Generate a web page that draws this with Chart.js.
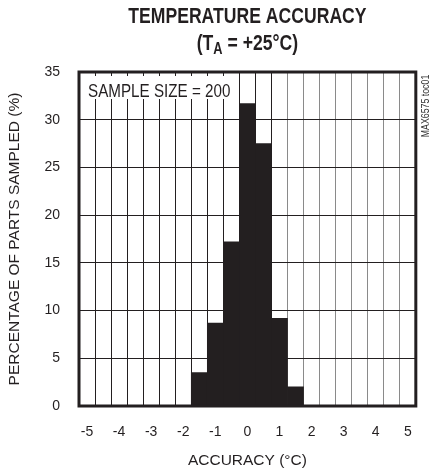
<!DOCTYPE html>
<html><head><meta charset="utf-8">
<script src="https://cdn.jsdelivr.net/npm/chart.js@4/dist/chart.umd.min.js"></script>
<style>html,body{margin:0;padding:0;background:#fff;}#wrap{width:430px;height:475px;position:relative;}</style>
</head><body><div id="wrap"><canvas id="c"></canvas></div>
<script>
const categories = ['-5','-4.5','-4','-3.5','-3','-2.5','-2','-1.5','-1','-0.5','0','0.5','1','1.5','2','2.5','3','3.5','4','4.5','5'];
const percentParts = [0,0,0,0,0,0,0,3.5,8.7,17.2,31.7,27.5,9.2,2,0,0,0,0,0,0,0];
const yMin = 0, yMax = 35, yStep = 5;
const titleLine1 = 'TEMPERATURE ACCURACY';
const titleLine2 = ['(T', 'A', ' = +25°C)'];
const sampleNote = 'SAMPLE SIZE = 200';
const sideNote = 'MAX6575 toc01';
const xTitle = 'ACCURACY (°C)';
const yTitle = 'PERCENTAGE OF PARTS SAMPLED (%)';

const FONT = '"Liberation Sans", Arial, sans-serif';
const INK = '#231f20';
const SX = 0.8; // horizontal condensing for plugin-drawn text

function measure(ctx, text, font) { ctx.font = font; return ctx.measureText(text).width * SX; }
function drawText(ctx, text, x, y, font, baseline) {
  ctx.save();
  ctx.font = font;
  ctx.textAlign = 'left';
  ctx.textBaseline = baseline || 'alphabetic';
  ctx.translate(x, y);
  ctx.scale(SX, 1);
  ctx.fillText(text, 0, 0);
  ctx.restore();
}

const decor = {
  id: 'decor',
  beforeDatasetsDraw(chart) {
    const {ctx, chartArea: ca} = chart;
    const f = '19px ' + FONT;
    const w = measure(ctx, sampleNote, f);
    ctx.save();
    ctx.fillStyle = '#fff';
    ctx.fillRect(ca.left + 4, ca.top + 4, w + 10, 23);
    ctx.fillStyle = INK;
    drawText(ctx, sampleNote, ca.left + 9, ca.top + 25, f);
    ctx.restore();
  },
  afterDatasetsDraw(chart) {
    const {ctx, chartArea: ca} = chart;
    ctx.save();
    ctx.strokeStyle = INK;
    ctx.lineWidth = 3;
    ctx.strokeRect(ca.left, ca.top, ca.right - ca.left, ca.bottom - ca.top);
    ctx.restore();
  },
  afterDraw(chart) {
    const {ctx, chartArea: ca} = chart;
    const cx = (ca.left + ca.right) / 2;
    ctx.save();
    ctx.fillStyle = INK;
    const big = 'bold 22px ' + FONT, small = 'bold 16px ' + FONT;
    const w = measure(ctx, titleLine1, big);
    drawText(ctx, titleLine1, cx - w / 2, 23, big);
    const w0 = measure(ctx, titleLine2[0], big);
    const w1 = measure(ctx, titleLine2[1], small);
    const w2 = measure(ctx, titleLine2[2], big);
    let x = cx - (w0 + w1 + w2) / 2;
    const base = 50;
    drawText(ctx, titleLine2[0], x, base, big); x += w0;
    drawText(ctx, titleLine2[1], x, base + 4, small); x += w1;
    drawText(ctx, titleLine2[2], x, base, big);
    // side note (rotated)
    const sf = '11px ' + FONT;
    const sw = measure(ctx, sideNote, sf);
    ctx.translate(429, 106);
    ctx.rotate(-Math.PI / 2);
    ctx.fillStyle = '#333';
    drawText(ctx, sideNote, -sw / 2, 0, sf);
    ctx.restore();
  }
};

new Chart(document.getElementById('c'), {
  type: 'bar',
  data: {
    labels: categories,
    datasets: [{
      data: percentParts,
      backgroundColor: INK,
      borderWidth: 0,
      barPercentage: 1,
      categoryPercentage: 1
    }]
  },
  options: {
    responsive: true,
    maintainAspectRatio: false,
    animation: false,
    layout: {padding: {left: 0, right: 13, top: 72, bottom: 0}},
    plugins: {legend: {display: false}, tooltip: {enabled: false}, title: {display: false}},
    scales: {
      x: {
        grid: {
          offset: true,
          drawTicks: false,
          lineWidth: 1,
          color: (c) => (c.index >= 13 ? '#8a8a8a' : INK)
        },
        border: {display: false},
        ticks: {
          autoSkip: false,
          maxRotation: 0,
          padding: 18,
          color: INK,
          font: {family: FONT, size: 14},
          callback: function (v) {
            const l = this.getLabelForValue(v);
            return l.includes('.') ? '' : l;
          }
        },
        title: {display: true, text: xTitle, color: INK, font: {family: FONT, size: 15.5}, padding: {top: 0, bottom: 5}},
        afterFit: (s) => { s.height = 69; }
      },
      y: {
        min: yMin, max: yMax,
        grid: {drawTicks: false, color: INK, lineWidth: 1},
        border: {display: false},
        ticks: {stepSize: yStep, padding: 19, color: INK, font: {family: FONT, size: 14}},
        title: {display: true, text: yTitle, color: INK, font: {family: FONT, size: 15.5}, padding: {top: 5, bottom: 0}},
        afterFit: (s) => { s.width = 79; }
      }
    }
  },
  plugins: [decor]
});
</script>
</body></html>
